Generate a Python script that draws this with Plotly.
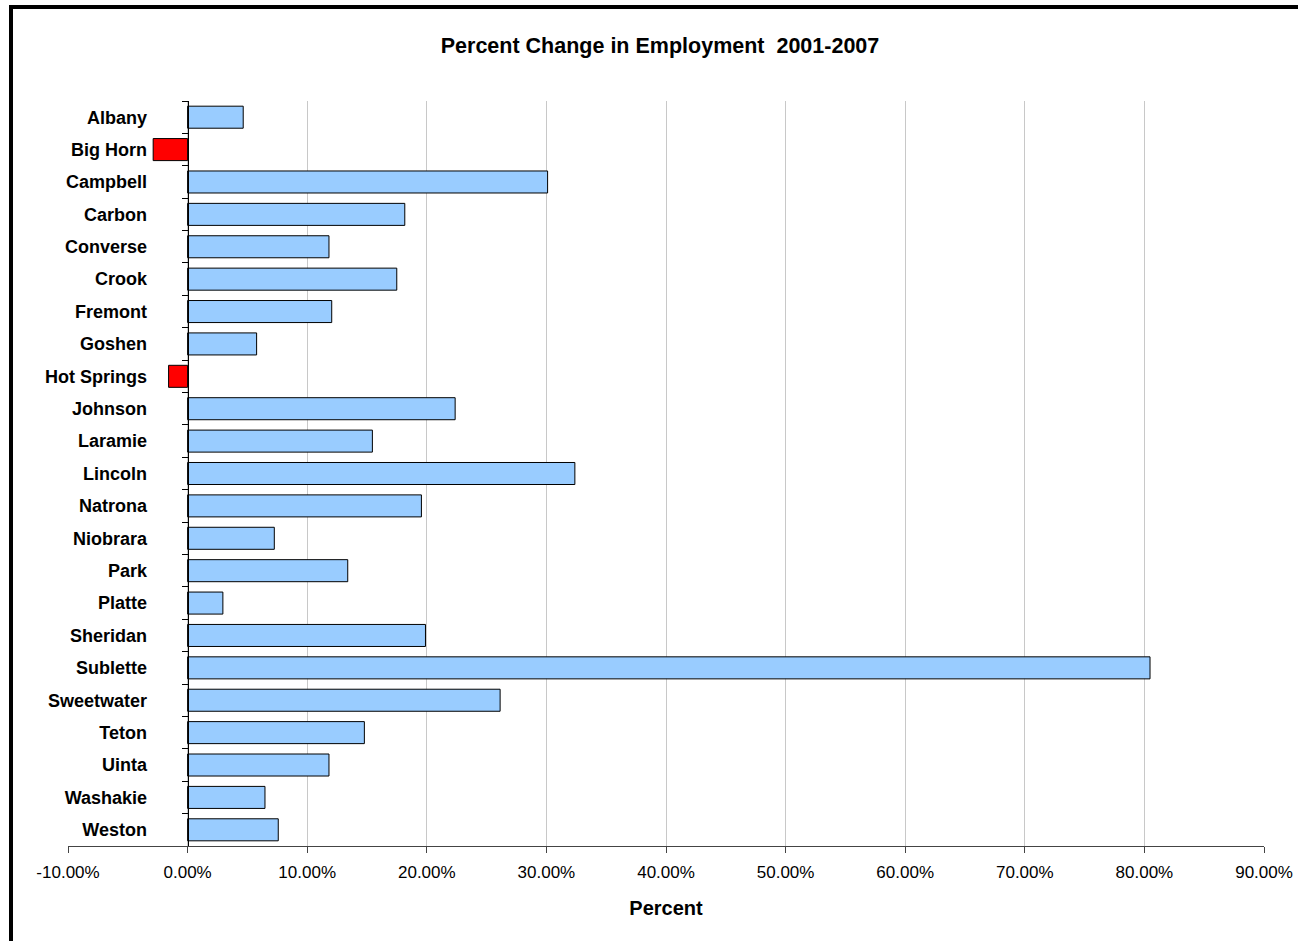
import plotly.graph_objects as go

counties = ["Albany", "Big Horn", "Campbell", "Carbon", "Converse", "Crook", "Fremont",
            "Goshen", "Hot Springs", "Johnson", "Laramie", "Lincoln", "Natrona", "Niobrara",
            "Park", "Platte", "Sheridan", "Sublette", "Sweetwater", "Teton", "Uinta",
            "Washakie", "Weston"]
pct_change = [0.0465, -0.0288, 0.3010, 0.1816, 0.1182, 0.1749, 0.1205,
              0.0577, -0.0159, 0.2237, 0.1545, 0.3238, 0.1955, 0.0725,
              0.1339, 0.0295, 0.1989, 0.8047, 0.2613, 0.1478, 0.1182,
              0.0647, 0.0758]
x_ticks = [-0.1, 0.0, 0.1, 0.2, 0.3, 0.4, 0.5, 0.6, 0.7, 0.8, 0.9]
x_tick_labels = ["-10.00%", "0.00%", "10.00%", "20.00%", "30.00%", "40.00%",
                 "50.00%", "60.00%", "70.00%", "80.00%", "90.00%"]

POS_COLOR = "#99CCFF"
NEG_COLOR = "#FF0000"
FONT = "Arial, Liberation Sans, sans-serif"

colors = [NEG_COLOR if v < 0 else POS_COLOR for v in pct_change]

fig = go.Figure(go.Bar(
    x=pct_change,
    y=counties,
    orientation="h",
    width=0.68,
    marker=dict(color=colors, line=dict(color="#000000", width=1)),
    hoverinfo="x+y",
))

W, H = 1298, 941
L, R, T, B = 68, 34, 101, 95
zero_pos = (0 - (-0.1)) / (0.9 - (-0.1))

fig.update_layout(
    width=W, height=H,
    margin=dict(l=L, r=R, t=T, b=B, autoexpand=False),
    paper_bgcolor="white",
    plot_bgcolor="white",
    showlegend=False,
    font=dict(family=FONT, color="#000000"),
    title=dict(
        text="<b>Percent Change in Employment  2001-2007</b>",
        x=(660 - L) / (W - L - R), xref="paper", xanchor="center",
        y=1 - 45 / H, yref="container", yanchor="middle",
        font=dict(size=21.5, family=FONT, color="#000000"),
    ),
    xaxis=dict(
        range=[-0.1, 0.9],
        tickvals=x_ticks,
        ticktext=x_tick_labels,
        automargin=False,
        showgrid=True, gridcolor="#C8C8C8", gridwidth=1,
        zeroline=False,
        showline=True, linecolor="#444444", linewidth=1,
        ticks="outside", ticklen=6, tickcolor="#444444",
        ticklabelstandoff=5,
        tickfont=dict(size=17, family=FONT, color="#000000"),
        title=dict(text="<b>Percent</b>", font=dict(size=20, family=FONT, color="#000000"),
                   standoff=19),
        fixedrange=True,
    ),
    yaxis=dict(
        type="category",
        autorange="reversed",
        anchor="free",
        position=zero_pos,
        automargin=False,
        showline=True, linecolor="#000000", linewidth=1,
        ticks="outside", ticklen=6, tickcolor="#000000",
        tickson="boundaries",
        ticklabelstandoff=37,
        showgrid=False,
        zeroline=False,
        tickfont=dict(size=18, family=FONT, color="#000000", weight="bold"),
        fixedrange=True,
    ),
)

# Heavy frame around the whole chart
pw, ph = W - L - R, H - T - B
fig.add_shape(
    type="rect", xref="paper", yref="paper",
    x0=(11 - L) / pw, x1=(W + 20 - L) / pw,
    y0=(H - B - (H + 20)) / ph, y1=(H - B - 7) / ph,
    line=dict(color="#000000", width=4), fillcolor="rgba(0,0,0,0)",
    layer="above",
)

fig.write_html("out.html")
